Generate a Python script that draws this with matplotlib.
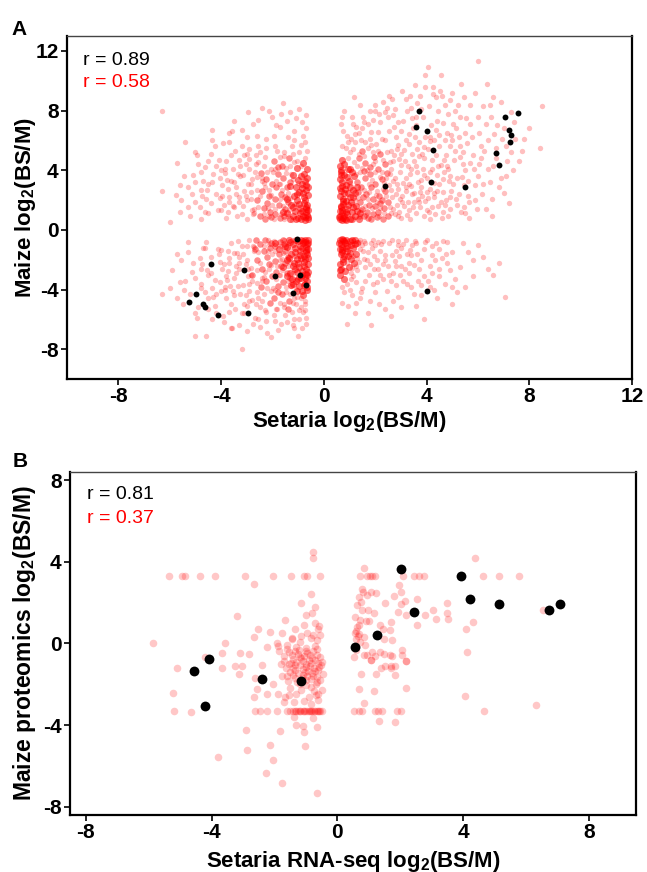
import matplotlib
matplotlib.use("Agg")
import matplotlib.pyplot as plt

plt.rcParams['font.family'] = ['Liberation Sans', 'DejaVu Sans']
plt.rcParams['mathtext.fontset'] = 'custom'
plt.rcParams['mathtext.rm'] = 'Liberation Sans:bold'
plt.rcParams['mathtext.default'] = 'rm'
plt.rcParams['axes.unicode_minus'] = False

# ---------------- Panel A data (Setaria vs Maize log2 BS/M) ----------------
a_q1_dense = [(0.62,0.7),(0.7,1.1),(0.65,1.6),(0.8,0.9),(0.75,2.1),(0.68,2.6),(0.9,1.4),(0.85,3.0),(0.63,3.4),(1.0,0.75),
              (1.05,1.9),(0.72,0.65),(0.95,2.5),(1.1,1.2),(0.66,4.0),(0.78,3.7),(1.2,0.9),(0.88,0.68),(1.15,2.2),(0.7,1.35),
              (0.62,2.3),(0.98,3.3),(1.25,1.6),(0.8,4.4),(0.64,0.95),(1.3,2.9),(0.76,1.75),(1.08,0.7),(0.92,1.05),(0.69,2.95),
              (1.18,3.6),(0.83,2.75),(1.4,1.1),(0.61,1.25),(1.02,4.1),(0.74,0.8),(1.35,0.7),(0.87,1.95),(0.67,3.9),(1.12,2.65),
              (0.6,0.85),(0.68,1.5),(0.73,1.95),(0.61,2.8),(0.78,2.45),(0.86,1.2),(0.94,1.7),(0.72,3.2),(0.9,3.55),(0.67,3.65),
              (1.0,2.2),(1.14,1.5),(0.81,0.72),(1.22,2.45),(1.03,2.85),(0.62,4.3),(0.95,4.05),(0.7,4.7),(1.1,3.9),(1.28,1.25)]
a_q1_core = [(1.5,1.4),(1.7,0.8),(1.9,2.1),(1.45,2.9),(2.1,1.2),(1.6,3.5),(2.3,0.7),(1.8,4.2),(2.4,2.6),(1.55,0.95),
             (2.0,3.1),(1.35,4.8),(2.2,1.8),(1.65,2.4),(2.45,3.8),(1.75,1.65),(1.3,3.2),(2.05,0.85),(1.95,4.9),(2.35,1.45),
             (1.48,5.3),(1.85,2.85),(2.15,2.3),(1.4,1.85),(2.5,0.95),(1.62,4.5),(2.25,3.4),(1.9,1.05),(1.52,2.2),(2.4,4.4),
             (1.78,3.75),(2.0,1.6),(1.33,2.55),(2.28,2.0),(1.68,1.2),(2.12,4.05),(1.58,3.95),(2.48,1.9),(1.82,0.7),(2.2,5.1)]
a_q1_cloud = [(0.7,5.6),(0.9,6.3),(1.2,5.9),(0.65,7.1),(1.5,6.8),(1.1,7.6),(1.8,6.1),(2.2,7.2),(0.8,8.0),(1.4,8.4),
              (2.0,8.0),(2.4,6.0),(1.0,5.2),(1.7,5.5),(0.75,6.6),(2.3,8.6),(1.25,6.9),(1.9,7.4),
              (2.6,1.1),(2.8,2.4),(3.0,0.8),(3.2,3.5),(2.7,4.6),(3.5,1.9),(3.8,2.9),(2.9,5.7),(3.3,6.4),(3.6,4.3),
              (2.55,3.0),(3.9,0.9),(3.1,7.3),(3.7,5.9),(2.75,6.9),(3.4,8.2),(3.85,7.6),(2.65,8.8),(3.05,9.3),(3.55,9.7),
              (3.95,10.4),(3.3,1.35),(2.95,3.9),(3.65,3.2),(3.75,1.5),(2.85,1.7),(3.45,5.1),(2.6,5.3),(3.2,2.6),(3.9,4.8),
              (3.15,4.6),(3.6,7.0),(2.7,7.7),
              (4.1,1.2),(4.3,2.2),(4.6,0.8),(4.9,3.6),(4.2,4.1),(4.5,5.6),(4.8,6.5),(5.2,1.7),(5.4,4.4),(4.4,7.3),
              (4.7,8.4),(5.0,9.2),(4.25,9.6),(4.55,10.4),(5.3,7.6),(5.1,5.3),(4.15,6.2),(4.95,2.6),(5.45,3.0),(4.65,3.4),
              (4.35,8.9),(5.35,9.8),(4.05,10.9),(5.15,6.8),(4.85,0.9),(5.5,1.1),(4.45,1.6),(5.05,4.7),
              (5.6,2.3),(5.8,5.0),(6.0,3.6),(5.7,7.1),(6.2,8.3),(6.0,11.3),(6.4,6.0),(6.6,4.3),(5.9,9.2),(6.3,1.4),
              (6.8,2.9),(6.5,7.6),(7.0,6.8),(7.3,5.2),(7.6,4.6),(6.9,8.6),(7.4,7.2),(5.65,0.8),(6.1,4.8),(6.7,5.5),
              (7.1,3.6),(7.8,6.1),(8.4,5.5),(8.5,8.3),(6.35,9.8),(5.75,6.2),(6.15,2.4),(7.2,1.8),(6.55,0.9),(5.95,1.4)]
a_q1_fill = [(0.95,4.8),(1.15,5.4),(1.42,3.9),(1.63,1.02),(1.87,3.35),(2.08,2.6),(2.32,4.7),(2.56,1.55),(2.77,3.45),(2.98,2.05),
             (3.22,1.02),(3.41,2.95),(3.66,2.1),(3.88,3.7),(4.12,2.75),(4.33,1.05),(4.58,4.35),(4.77,2.0),(5.02,3.1),(5.28,2.4),
             (1.05,6.1),(1.36,6.5),(1.72,7.1),(2.12,6.55),(2.48,7.55),(2.82,6.2),(3.12,5.35),(3.48,6.85),(3.82,5.1),(4.18,7.0),
             (4.48,6.35),(4.82,7.75),(5.22,8.4),(5.48,6.5),(2.02,5.75),(2.62,4.1),(3.02,4.35),(3.32,3.05),(3.72,4.95),(4.06,5.45),
             (4.4,3.7),(4.75,5.0),(5.0,6.0),(5.32,5.6),(1.28,4.3),(1.6,5.9),(1.92,5.2),(2.28,3.9),(2.66,2.2),(2.92,1.2),
             (3.26,1.9),(3.58,1.1),(3.92,1.95),(4.28,3.15),(4.62,2.55),(4.92,1.4),(5.38,3.55),(0.88,5.5),(1.52,7.6),(1.98,8.4),
             (2.38,7.9),(2.78,8.1),(3.18,8.75),(3.62,8.5),(4.08,8.3),(4.52,9.3),(4.9,8.7),(1.18,8.9),(0.72,7.6),(2.55,9.0),
             (1.45,1.3),(1.75,2.55),(2.05,1.9),(2.35,1.1),(2.7,3.3),(3.08,3.15),(3.38,4.05),(3.75,2.55),(4.02,3.45),(4.35,5.0),
             (1.22,2.0),(1.38,0.85),(1.58,2.7),(1.88,1.45),(2.18,3.55),(2.42,2.3),(2.88,2.75),(3.52,2.5),(4.22,1.55),(4.68,3.9),
             (5.6,3.3),(5.85,4.1),(6.05,6.5),(6.25,5.3),(6.45,3.2),(6.75,7.0),(7.15,4.6),(5.7,8.4),(6.6,8.9),(7.45,6.1)]
a_q1_more = [(1.02,3.15),(1.18,4.55),(1.33,2.15),(1.47,4.15),(1.61,1.58),(1.76,3.05),(1.9,4.45),(2.04,2.35),(2.19,1.45),(2.33,3.15),
             (2.47,5.2),(2.62,2.7),(2.76,1.05),(2.91,4.75),(3.05,2.3),(3.19,6.0),(3.34,3.75),(3.48,1.55),(3.63,5.45),(3.77,3.35),
             (3.92,6.25),(4.06,2.15),(4.21,4.7),(4.35,6.7),(4.5,3.05),(4.64,1.2),(4.79,4.3),(4.93,5.65),(1.09,1.72),(1.27,3.75),
             (1.41,0.95),(1.56,4.95),(1.7,2.05),(1.84,5.7),(1.99,3.9),(2.13,0.95),(2.27,6.1),(2.42,3.45),(2.56,4.55),(2.71,1.4),
             (2.85,3.05),(2.99,5.1),(3.13,1.6),(3.28,4.3),(3.42,2.4),(3.57,7.6),(3.71,1.9),(3.86,4.05),(4.0,1.35),(4.14,5.95),
             (4.29,2.45),(4.43,7.95),(4.58,1.9),(4.72,6.0),(4.87,3.25),(5.01,7.1),(5.16,2.1),(5.3,4.9),(5.44,1.55),(5.58,5.8),
             (1.2,6.45),(1.55,7.25),(1.85,6.55),(2.15,7.8),(2.52,6.65),(2.9,7.25),(3.25,7.95),(3.75,8.95),(4.25,9.1),(4.65,7.15),
             (1.37,5.1),(1.67,4.0),(2.0,4.6),(2.31,2.75),(2.58,3.75),(2.87,0.9),(3.18,2.85),(3.5,4.65),(3.82,2.3),(4.12,3.9),
             (0.95,5.9),(1.12,7.1),(1.46,6.05),(1.8,8.0),(2.1,5.3),(2.45,8.2),(2.83,5.45),(3.35,9.0),(3.95,9.6),(5.45,8.9)]
a_q1_outer = [(3.05,1.85),(3.35,0.75),(3.62,3.85),(3.9,5.55),(4.15,0.75),(4.4,2.6),(4.68,4.7),(4.95,6.35),(5.18,3.5),(5.42,5.25),
              (5.65,1.85),(5.9,3.0),(6.12,5.6),(6.38,4.1),(6.62,6.4),(6.88,3.5),(7.1,5.6),(7.35,4.0),(5.55,7.5),(6.0,7.6),
              (6.45,8.4),(4.6,9.0),(5.1,8.0),(3.45,7.5),(3.8,8.1),(4.3,6.0),(4.85,4.1),(5.25,6.2),(5.7,4.5),(6.2,3.1),
              (6.55,2.1),(6.95,6.1),(7.3,7.9),(7.7,5.3),(8.0,6.8),(5.9,2.0),(5.35,1.2),(4.72,1.65),(4.0,2.55),(3.3,5.75),
              (2.75,5.05),(3.0,6.6),(3.55,6.2),(4.45,4.25),(4.9,2.2),(5.5,4.0),(6.05,4.4),(6.3,7.1),(6.7,4.8),(7.0,2.5)]
a_q2_dense = [(-0.62,0.72),(-0.7,1.2),(-0.66,1.7),(-0.82,0.9),(-0.76,2.2),(-0.68,2.7),(-0.92,1.45),(-0.86,3.1),(-0.64,3.5),
              (-1.02,0.78),(-1.06,2.0),(-0.73,0.66),(-0.96,2.55),(-1.12,1.25),(-0.67,4.1),(-0.79,3.75),(-1.22,0.95),(-0.89,0.7),
              (-1.16,2.3),(-0.71,1.4),(-0.63,2.35),(-0.99,3.35),(-1.27,1.65),(-0.81,4.5),(-0.65,1.0),(-1.31,2.95),(-0.77,1.8),
              (-1.09,0.72),(-0.93,1.1),(-0.7,3.0),(-1.19,3.65),(-0.84,2.8),(-1.42,1.15),(-0.61,1.3),(-1.04,4.15),(-0.75,0.84),
              (-0.6,0.85),(-0.68,1.55),(-0.74,2.0),(-0.62,2.85),(-0.8,2.45),(-0.87,1.25),(-0.95,1.75),(-0.73,3.3),(-0.9,3.6),
              (-1.05,2.4),(-1.2,1.55),(-1.3,0.75),(-1.45,2.05),(-1.1,2.9),(-1.6,1.2)]
a_q2_core = [(-1.5,1.4),(-1.7,0.8),(-1.9,2.1),(-1.45,2.9),(-2.1,1.2),(-1.6,3.5),(-2.3,0.7),(-1.8,4.2),(-2.4,2.6),(-1.55,0.95),
             (-2.0,3.1),(-1.35,4.8),(-2.2,1.8),(-1.65,2.4),(-2.45,3.8),(-1.75,1.65),(-1.3,3.2),(-2.05,0.85),(-1.95,4.6),(-2.35,1.45),
             (-1.85,2.85),(-2.15,2.3),(-1.4,1.85),(-2.5,0.95),(-1.62,4.3),(-2.25,3.4),(-1.9,1.05),(-1.52,2.2),(-2.6,2.0),(-1.78,3.75)]
a_q2_cloud = [(-2.8,1.3),(-3.1,2.6),(-3.4,0.9),(-2.7,3.9),(-3.6,3.3),(-3.9,1.7),(-4.2,2.4),(-4.5,1.1),(-3.3,4.7),(-2.9,5.4),
              (-4.0,4.0),(-4.7,3.3),(-5.0,1.9),(-5.3,2.9),(-4.4,5.1),(-3.7,5.9),(-2.6,6.3),(-3.2,6.7),(-4.35,6.7),(-2.4,8.2),
              (-1.58,8.5),(-2.0,7.6),(-1.1,7.5),(-0.7,6.8),(-1.4,6.2),(-0.9,5.7),(-1.9,5.6),(-2.3,4.9),(-1.2,5.1),(-0.65,5.3),
              (-5.4,5.9),(-6.3,8.0),(-6.3,2.6),(-5.76,2.35),(-5.6,1.2),(-4.9,4.4),(-3.0,0.75),(-3.8,0.8),(-4.8,0.7),(-2.85,2.1),
              (-3.55,1.6),(-2.65,4.4),(-3.95,3.0),(-4.6,2.1),(-3.25,3.6),(-2.55,5.6),(-1.7,6.9),(-1.3,7.9),(-0.8,6.3),(-5.1,3.7),
              (-3.5,7.3),(-2.95,7.9),(-4.1,4.7),(-5.2,0.9),(-6.0,0.5),
              (-3.3,2.2),(-3.75,2.75),(-4.3,3.75),(-4.75,2.3),(-5.0,3.2),(-3.5,3.2),(-2.9,4.1),(-3.1,5.0),(-4.5,4.6),(-5.6,3.0)]
a_q2_fill = [(-1.05,4.6),(-1.25,5.6),(-1.48,3.8),(-1.66,1.05),(-1.88,3.3),(-2.12,2.65),(-2.32,4.3),(-2.55,1.5),(-2.78,3.4),(-2.98,2.0),
             (-3.2,1.05),(-3.42,2.9),(-3.68,2.2),(-3.86,3.8),(-4.12,1.3),(-4.35,3.2),(-4.62,4.2),(-4.82,1.5),(-1.15,6.0),(-1.55,5.2),
             (-1.95,6.3),(-2.25,5.5),(-2.65,5.0),(-3.05,4.4),(-3.45,5.3),(-3.8,4.6),(-4.25,5.6),(-1.35,1.3),(-1.62,2.7),(-1.92,1.4),
             (-2.22,3.9),(-2.48,2.25),(-2.72,1.15),(-2.95,3.1),(-3.3,1.85),(-3.55,4.1),(-3.95,2.3),(-4.4,1.8),(-0.95,5.2),(-0.72,4.8),
             (-1.3,4.3),(-1.72,4.9),(-2.05,4.1),(-2.42,3.25),(-2.85,2.55),(-3.15,3.7),(-3.75,1.2),(-4.05,3.5),(-4.55,2.7),(-5.15,2.4),
             (-5.45,3.6),(-5.7,4.5),(-5.0,5.2),(-0.85,7.2),(-1.85,7.0),(-2.75,7.1),(-3.7,6.5),(-1.45,7.3),(-2.15,8.0),(-0.95,8.1),
             (-1.15,1.75),(-1.4,2.45),(-1.7,3.05),(-2.0,1.65),(-2.3,2.85),(-2.6,3.55),(-1.25,0.68),(-1.55,0.7),(-1.95,0.75),(-2.35,1.05)]
a_q2_more = [(-1.02,3.15),(-1.18,4.55),(-1.33,2.15),(-1.47,4.15),(-1.61,1.58),(-1.76,3.05),(-1.9,4.05),(-2.04,2.35),(-2.19,1.45),(-2.33,3.15),
             (-2.47,5.2),(-2.62,2.7),(-2.76,1.05),(-2.91,4.75),(-3.05,2.3),(-3.19,5.6),(-3.34,3.75),(-3.48,1.55),(-3.63,5.0),(-3.77,3.35),
             (-3.92,5.8),(-4.06,2.15),(-4.21,4.3),(-4.35,6.0),(-4.5,3.05),(-4.64,1.2),(-4.79,3.9),(-4.93,5.0),(-1.09,1.72),(-1.27,3.75),
             (-1.41,0.95),(-1.56,4.95),(-1.7,2.05),(-1.84,5.3),(-1.99,3.9),(-2.13,0.95),(-2.27,6.1),(-2.42,3.45),(-2.56,4.55),(-2.71,1.4),
             (-2.85,3.05),(-2.99,5.1),(-3.13,1.6),(-3.28,4.3),(-3.42,2.4),(-3.57,6.6),(-3.71,1.9),(-3.86,4.05),(-4.0,1.35),(-5.3,1.5),
             (-5.55,2.0),(-4.8,2.65),(-1.15,6.6),(-0.75,5.9),(-0.68,7.7),(-1.65,7.8),(-2.55,7.4),(-3.0,6.2),(-0.9,4.3),(-1.2,3.4)]
a_q3_dense = [(-0.62,-0.7),(-0.7,-1.15),(-0.66,-1.65),(-0.82,-0.9),(-0.76,-2.15),(-0.68,-2.65),(-0.92,-1.4),(-0.86,-3.05),
              (-0.64,-3.45),(-1.02,-0.75),(-1.06,-1.95),(-0.73,-0.66),(-0.96,-2.5),(-1.12,-1.2),(-0.67,-4.0),(-0.79,-3.7),
              (-1.22,-0.92),(-0.89,-0.68),(-1.16,-2.25),(-0.71,-1.38),(-0.63,-2.3),(-0.99,-3.3),(-1.27,-1.6),(-0.81,-4.4),
              (-0.65,-0.98),(-1.31,-2.9),(-0.77,-1.78),(-1.09,-0.7),(-0.93,-1.08),(-0.7,-2.95),(-1.19,-3.6),(-0.84,-2.75),
              (-1.42,-1.12),(-0.61,-1.28),(-1.04,-4.1),(-0.75,-0.82),(-1.36,-0.66),(-0.88,-1.92),(-0.66,-3.85),(-1.13,-2.6),
              (-0.6,-1.9),(-0.95,-3.75),(-1.25,-3.3),(-1.45,-2.0),(-0.72,-3.25),
              (-0.6,-0.85),(-0.68,-1.5),(-0.73,-1.95),(-0.61,-2.8),(-0.78,-2.45),(-0.86,-1.2),(-0.94,-1.7),(-0.72,-3.6),
              (-0.9,-3.2),(-0.67,-3.05),(-1.0,-2.2),(-1.14,-1.5),(-0.81,-0.72),(-1.22,-2.45),(-1.03,-2.85),(-1.35,-1.9),
              (-1.5,-1.1),(-1.28,-3.7),(-1.1,-3.4),(-0.85,-4.1),(-1.6,-2.5),(-1.75,-1.3),(-1.45,-3.1),(-1.9,-0.9),(-1.3,-0.8)]
a_q3_core = [(-1.5,-1.4),(-1.7,-0.8),(-1.9,-2.1),(-1.45,-2.9),(-2.1,-1.2),(-1.6,-3.5),(-2.3,-0.7),(-1.8,-4.2),(-2.4,-2.6),
             (-1.55,-0.95),(-2.0,-3.1),(-1.35,-4.8),(-2.2,-1.8),(-1.65,-2.4),(-2.45,-3.8),(-1.75,-1.65),(-1.3,-3.2),(-2.05,-0.85),
             (-1.95,-4.6),(-2.35,-1.45),(-1.85,-2.85),(-2.15,-2.3),(-1.4,-1.85),(-2.5,-0.95),(-1.62,-4.3),(-2.25,-3.4),(-1.9,-1.05),
             (-1.52,-2.2),(-2.6,-2.0),(-1.78,-3.75),(-2.7,-1.3),(-2.8,-3.0),(-1.4,-5.3),(-2.1,-4.9),(-2.65,-0.65),(-1.6,-0.65)]
a_q3_cloud = [(-3.0,-1.1),(-3.3,-2.2),(-3.6,-0.9),(-2.9,-3.6),(-3.8,-3.1),(-4.1,-1.6),(-4.4,-2.9),(-4.7,-1.2),(-3.5,-4.4),
              (-3.1,-5.0),(-4.0,-4.1),(-4.8,-3.6),(-5.1,-2.2),(-5.4,-3.4),(-4.5,-4.6),(-3.7,-5.5),(-2.7,-5.9),(-3.3,-6.4),
              (-2.5,-6.5),(-3.2,-8.0),(-5.0,-7.1),(-4.6,-7.1),(-1.9,-6.1),(-1.2,-6.4),(-0.7,-5.9),(-1.5,-5.7),(-0.9,-5.2),
              (-2.3,-5.4),(-1.0,-7.1),(-6.3,-4.3),(-6.0,-3.9),(-5.7,-1.6),(-5.9,-2.7),(-5.5,-5.0),(-4.2,-5.6),(-2.8,-4.7),
              (-3.9,-2.3),(-4.6,-0.8),(-5.3,-0.8),(-3.4,-1.55),(-2.95,-2.65),(-3.65,-3.75),(-4.25,-3.35),(-2.6,-4.2),
              (-1.8,-6.7),(-2.2,-6.9),(-5.2,-4.3),(-4.9,-5.2),(-3.9,-6.2),(-0.75,-4.8),(-1.1,-5.0),
              (-3.3,-2.6),(-3.75,-2.75),(-4.3,-4.5),(-4.75,-2.3),(-5.0,-3.2),(-3.5,-3.2),(-2.9,-4.1),(-3.1,-5.6),(-4.5,-5.3),(-5.6,-3.5)]
a_q3_fill = [(-1.05,-4.5),(-1.25,-5.5),(-1.48,-3.8),(-1.66,-1.05),(-1.88,-3.3),(-2.12,-2.65),(-2.32,-4.3),(-2.55,-1.5),(-2.78,-3.4),(-2.98,-2.0),
             (-3.2,-1.05),(-3.42,-2.9),(-3.68,-2.2),(-3.86,-3.8),(-4.12,-1.3),(-4.35,-3.9),(-4.62,-4.2),(-4.82,-1.9),(-1.15,-6.0),(-1.55,-5.2),
             (-1.95,-5.7),(-2.25,-5.5),(-2.65,-5.0),(-3.05,-4.4),(-3.45,-5.3),(-3.8,-4.6),(-4.25,-5.1),(-1.35,-1.3),(-1.62,-2.7),(-1.92,-1.4),
             (-2.22,-3.9),(-2.48,-2.25),(-2.72,-1.15),(-2.95,-3.1),(-3.3,-1.85),(-3.55,-4.1),(-3.95,-2.6),(-4.4,-1.8),(-0.95,-5.4),(-0.72,-5.0),
             (-1.3,-4.3),(-1.72,-4.9),(-2.05,-4.1),(-2.42,-3.25),(-2.85,-2.55),(-3.15,-3.7),(-3.75,-1.4),(-4.05,-3.5),(-4.55,-2.7),(-5.15,-2.8),
             (-5.45,-4.0),(-5.7,-4.6),(-5.0,-5.6),(-0.85,-6.6),(-1.85,-5.3),(-2.75,-6.3),(-3.6,-6.6),(-1.45,-6.2),(-2.05,-7.2),(-0.95,-6.0),
             (-1.15,-1.75),(-1.4,-2.45),(-1.7,-3.05),(-2.0,-1.65),(-2.3,-2.85),(-2.6,-3.55),(-1.25,-0.68),(-1.55,-0.7),(-1.95,-0.75),(-2.35,-1.05),
             (-1.1,-3.95),(-1.38,-3.45),(-1.62,-1.95),(-1.82,-2.45),(-2.18,-0.7),(-2.42,-4.8),(-2.9,-0.7),(-3.35,-0.75),(-0.8,-5.5),(-1.22,-4.9)]
a_q3_more = [(-1.02,-3.15),(-1.18,-4.55),(-1.33,-2.15),(-1.47,-4.15),(-1.61,-1.58),(-1.76,-3.05),(-1.9,-4.05),(-2.04,-2.35),(-2.19,-1.45),(-2.33,-3.15),
             (-2.47,-5.2),(-2.62,-2.7),(-2.76,-1.05),(-2.91,-4.75),(-3.05,-2.3),(-3.19,-5.6),(-3.34,-3.75),(-3.48,-1.55),(-3.63,-5.0),(-3.77,-3.35),
             (-3.92,-5.8),(-4.06,-2.15),(-4.21,-4.3),(-4.35,-6.0),(-4.5,-3.05),(-4.64,-1.2),(-4.79,-3.9),(-4.93,-5.9),(-1.09,-1.72),(-1.27,-3.75),
             (-1.41,-0.95),(-1.56,-4.95),(-1.7,-2.05),(-1.84,-5.3),(-1.99,-3.9),(-2.13,-0.95),(-2.27,-6.1),(-2.42,-3.45),(-2.56,-4.55),(-2.71,-1.4),
             (-2.85,-3.05),(-2.99,-5.1),(-3.13,-1.6),(-3.28,-4.3),(-3.42,-2.4),(-3.57,-6.6),(-3.71,-1.9),(-3.86,-4.05),(-4.0,-1.35),(-5.3,-1.5),
             (-5.55,-2.0),(-4.8,-2.65),(-1.15,-6.6),(-0.75,-5.4),(-0.68,-6.3),(-1.65,-6.3),(-2.55,-6.0),(-3.0,-6.8),(-0.9,-4.6),(-1.2,-2.9)]
a_q4_dense = [(0.62,-0.7),(0.7,-1.15),(0.66,-1.65),(0.82,-0.9),(0.76,-2.15),(0.68,-2.65),(0.92,-1.4),(0.86,-0.65),(0.64,-3.0),
              (1.02,-0.75),(1.06,-1.95),(0.73,-0.66),(0.96,-2.5),(1.12,-1.2),(0.79,-3.3),(1.22,-0.92),(0.89,-1.1),(1.16,-2.25),
              (0.71,-1.38),(0.63,-2.3),(1.27,-1.6),(0.65,-0.98),(0.77,-1.78),(1.09,-0.7),(1.3,-0.85),(0.84,-2.75),(0.61,-1.28),
              (1.0,-1.55),(0.6,-0.85),(0.69,-1.5),(0.75,-1.95),(0.62,-2.7),(0.8,-0.75),(0.88,-1.25),(0.95,-1.75),(1.05,-1.0),
              (1.2,-0.68),(0.7,-0.62)]
a_q4_cloud = [(1.5,-1.0),(1.8,-2.3),(2.1,-0.8),(2.4,-1.7),(1.6,-3.4),(2.7,-2.9),(3.0,-1.2),(3.3,-2.2),(2.0,-4.2),(1.4,-4.6),
              (3.6,-0.9),(3.9,-3.1),(4.2,-1.7),(4.5,-2.6),(2.9,-4.5),(3.4,-3.8),(4.8,-0.8),(5.1,-3.3),(5.6,-1.5),(6.0,-1.0),
              (6.4,-2.6),(7.05,-4.5),(5.0,-5.0),(3.6,-5.1),(2.4,-5.3),(1.2,-5.6),(0.9,-6.3),(1.85,-6.4),(2.6,-5.8),(3.9,-6.0),
              (4.4,-4.6),(1.7,-1.5),(2.2,-3.0),(1.3,-2.7),(2.8,-1.4),(3.2,-0.7),(4.0,-0.7),(1.9,-0.65),(2.5,-2.4),(1.0,-4.0),
              (0.7,-4.9),(3.7,-2.6),(4.7,-3.6),(5.8,-2.0),(2.3,-0.75),(1.55,-1.95),(1.35,-0.8),(3.1,-3.4),(6.6,-3.0),
              (1.3,-1.9),(1.6,-0.9),(1.9,-3.6),(2.3,-2.3),(2.6,-3.4),(3.0,-2.4),(3.4,-1.7),(3.8,-3.7),(4.2,-2.9),(4.6,-1.9),
              (5.0,-3.8),(5.4,-0.9),(1.05,-3.3),(1.25,-4.9),(2.0,-1.0),(2.9,-1.0),(3.55,-0.75),(4.3,-4.0),(0.85,-1.9),(1.1,-2.55)]
a_q4_fill = [(1.05,-2.9),(1.25,-3.5),(1.42,-1.3),(1.62,-2.5),(1.88,-1.2),(2.08,-2.0),(2.32,-3.3),(2.55,-0.9),(2.78,-2.1),(2.98,-3.0),
             (3.22,-1.6),(3.45,-1.0),(3.68,-3.4),(3.88,-1.3),(4.12,-2.4),(4.35,-0.9),(1.15,-0.65),(1.35,-2.15),(1.55,-0.75),(1.75,-3.0),
             (1.95,-2.6),(2.2,-1.4),(2.45,-4.1),(2.65,-1.7),(2.9,-0.75),(3.15,-2.6),(3.5,-4.3),(3.8,-2.0),(4.15,-3.8),(4.5,-1.3),
             (0.9,-3.6),(1.1,-4.4),(1.5,-3.9),(1.8,-4.8),(2.15,-5.0),(2.8,-3.7),(3.3,-2.9),(0.7,-3.8),(0.95,-5.1),(5.3,-2.5),
             (5.0,-1.5),(5.5,-3.8),(6.2,-1.8),(4.8,-2.2),(0.8,-0.75)]
a_q4_more = [(0.98,-0.9),(1.12,-1.75),(1.26,-2.4),(1.4,-0.7),(1.54,-1.45),(1.68,-2.05),(1.82,-0.85),(1.96,-1.75),(2.1,-2.65),(2.24,-0.95),
             (2.38,-2.05),(2.52,-3.05),(2.66,-0.7),(2.8,-2.45),(2.94,-1.75),(3.08,-0.95),(3.22,-3.6),(3.36,-1.35),(3.5,-2.35),(3.64,-1.65),
             (3.78,-4.4),(3.92,-0.8),(4.06,-3.4),(4.2,-1.1),(4.34,-2.0),(4.48,-3.1),(4.62,-0.75),(4.76,-1.6),(4.9,-2.7),(5.2,-4.2),
             (0.78,-4.2),(0.9,-2.2),(1.15,-3.1),(1.45,-4.2),(1.7,-5.6),(2.05,-3.5),(2.7,-4.8),(3.0,-5.2),(5.8,-3.1),(6.8,-2.2)]
a_black = [(3.69,8.0),(3.59,6.9),(4.03,6.6),(4.25,5.35),(4.19,3.2),(2.40,2.93),(5.50,2.85),(7.05,7.6),(7.57,7.87),
           (7.2,6.67),(7.29,6.38),(7.23,5.87),(6.71,5.15),(6.83,4.38),(4.02,-4.13),
           (-1.05,-0.62),(-4.41,-2.31),(-3.09,-2.69),(-1.91,-3.11),(-0.93,-3.02),(-0.70,-3.73),(-1.20,-4.22),
           (-4.97,-4.29),(-5.25,-4.87),(-4.71,-4.98),(-4.62,-5.2),(-4.12,-5.71),(-2.94,-5.6)]
a_r_all = "r = 0.89"
a_r_red = "r = 0.58"
a_xticks = [-8, -4, 0, 4, 8, 12]
a_yticks = [-8, -4, 0, 4, 8, 12]

# ---------------- Panel B data (Setaria RNA-seq vs Maize proteomics) ----------------
b_red_top = [(-5.34,3.3),(-4.93,3.3),(-4.85,3.3),(-4.36,3.3),(-3.89,3.3),(-2.92,3.3),(-2.03,3.3),(-1.47,3.3),(-1.07,3.3),
             (-0.96,3.3),(-0.54,3.3),(0.73,3.3),(0.95,3.3),(1.05,3.3),(1.1,3.3),(1.21,3.3),(2.09,3.3),(2.43,3.3),(2.59,3.3),
             (2.75,3.3),(4.64,3.3),(5.14,3.3),(5.77,3.3)]
b_red_bottom = [(-5.18,-3.3),(-4.65,-3.38),(-2.61,-3.3),(-2.45,-3.3),(-2.24,-3.3),(-1.92,-3.3),(-1.60,-3.3),(-1.49,-3.3),
                (-1.4,-3.3),(-1.32,-3.3),(-1.25,-3.3),(-1.18,-3.3),(-1.1,-3.3),(-1.02,-3.3),(-0.95,-3.3),(-0.88,-3.3),
                (-0.8,-3.3),(-0.72,-3.3),(-0.65,-3.3),(-0.58,-3.3),(-0.5,-3.3),(-1.2,-3.3),(-0.9,-3.3),(-0.6,-3.3),
                (-1.05,-3.3),(-0.75,-3.3),(-1.35,-3.3),(-0.85,-3.3),(-0.55,-3.3),(0.52,-3.32),(0.68,-3.32),(0.79,-3.32),
                (1.19,-3.32),(1.28,-3.32),(1.42,-3.32),(1.90,-3.32),(2.04,-3.32),(4.66,-3.32)]
b_red_left = [(-0.77,4.49),(-0.77,4.21),(-2.66,2.9),(-0.85,2.41),(-1.16,1.99),(-0.70,1.79),(-0.79,1.47),(-1.0,1.39),
              (-3.19,1.34),(-1.65,1.14),(-0.70,1.01),(-1.07,0.90),(-0.59,0.85),(-2.52,0.72),(-1.34,0.72),(-2.13,0.57),
              (-1.76,0.52),(-0.96,0.52),(-0.77,0.44),(-2.66,0.32),(-1.44,0.29),(-5.87,0.0),(-3.57,0.0),(-1.92,0.0),
              (-1.20,0.08),(-0.65,0.16),(-2.24,-0.16),(-1.60,-0.25),(-0.65,-0.25),(-3.67,-0.49),(-3.09,-0.49),(-2.82,-0.52),
              (-4.20,-0.65),(-2.40,-1.06),(-3.25,-1.11),(-3.67,-1.22),(-5.1,-1.22),(-3.04,-1.11),(-3.11,-1.50),(-2.61,-1.67),
              (-2.03,-1.99),(-2.56,-2.25),(-2.24,-2.45),(-1.87,-2.45),(-5.21,-2.42),(-2.66,-2.61),(-1.71,-2.86),(-1.55,-2.53),
              (-0.60,-2.45),(-1.39,-3.59),(-1.31,-4.0),(-1.09,-4.05),(-1.07,-4.33),(-0.65,-4.08),(-0.77,-3.67),(-2.91,-4.25),
              (-1.82,-4.29),(-2.13,-4.95),(-1.02,-5.03),(-2.86,-5.22),(-3.80,-5.55),(-2.03,-5.71),(-2.26,-6.34),(-1.76,-6.81),
              (-0.63,-7.32)]
b_red_cluster = [(-1.85,-0.35),(-1.7,-0.6),(-1.55,-0.4),(-1.4,-0.75),(-1.25,-0.5),(-1.1,-0.85),(-0.95,-0.45),(-0.8,-0.7),
                 (-0.65,-0.55),(-0.5,-0.9),(-1.8,-1.0),(-1.62,-1.2),(-1.48,-0.95),(-1.33,-1.3),(-1.18,-1.05),(-1.02,-1.4),
                 (-0.88,-1.1),(-0.72,-1.35),(-0.58,-1.15),(-0.47,-1.5),(-1.75,-1.6),(-1.58,-1.85),(-1.42,-1.55),(-1.28,-1.9),
                 (-1.12,-1.7),(-0.98,-2.05),(-0.83,-1.75),(-0.68,-2.0),(-0.55,-1.8),(-0.5,-2.3),(-1.5,-2.2),(-1.3,-2.45),
                 (-1.15,-2.3),(-0.9,-2.6),(-0.75,-2.35),(-1.65,-2.6),(-1.05,-2.8),(-0.6,-2.75),(-1.38,-2.85),(-0.85,-2.95),
                 (-1.9,-0.1),(-1.6,-0.05),(-1.3,-0.15),(-1.0,-0.2),(-0.7,-0.1),(-1.45,0.2),(-1.15,0.35),(-0.85,0.25),
                 (-0.55,0.4),(-0.6,0.7),(-1.2,-0.65),(-1.0,-1.0),(-0.9,-0.8),(-0.75,-1.2),(-0.62,-0.95),(-1.35,-1.05),
                 (-1.1,-1.25),(-0.95,-1.6),(-0.8,-1.45),(-0.65,-1.65),(-1.22,-0.3),(-0.78,-0.35),(-1.5,-1.4),(-1.05,-0.6),
                 (-0.55,-0.65),(-1.45,-0.55),(-1.3,-0.9),(-1.15,-0.7),(-0.98,-1.15),(-0.85,-0.95),(-0.7,-0.8),(-0.6,-1.3),
                 (-1.4,-1.2),(-1.25,-1.45),(-1.08,-1.55),(-0.92,-1.35),(-0.78,-1.6),(-0.63,-1.9),(-1.35,-1.7),(-1.2,-2.0),
                 (-1.0,-1.8),(-0.82,-2.15),(-0.68,-2.5),(-1.55,-1.0),(-1.7,-0.85),(-1.6,-1.6),(-1.0,-0.35),(-0.88,-0.55),
                 (-1.35,-0.35),(-0.52,-1.05)]
b_red_right = [(0.84,3.7),(4.37,4.19),(1.95,2.86),(0.79,2.69),(0.82,2.5),(1.06,2.5),(1.24,2.45),(2.03,2.53),(1.79,2.32),
               (0.95,2.37),(2.54,2.20),(0.75,2.02),(1.51,1.96),(2.15,2.1),(2.04,1.95),(3.49,1.96),(0.78,1.66),(0.99,1.66),
               (1.93,1.55),(3.04,1.66),(3.49,1.50),(1.16,1.47),(2.20,1.39),(2.80,1.39),(3.15,1.19),(3.51,1.19),(0.73,1.17),
               (0.9,1.1),(1.0,1.1),(1.72,1.06),(4.32,1.06),(2.52,0.90),(0.63,0.81),(1.37,0.90),(4.08,0.69),(1.44,0.7),
               (1.67,0.65),(0.66,0.35),(0.84,0.3),(1.47,0.24),(1.74,0.16),(0.89,-0.08),(1.11,-0.4),(1.37,-0.4),(2.06,-0.33),
               (4.13,-0.41),(0.52,-0.65),(0.84,-0.56),(1.08,-0.82),(1.68,-0.57),(2.20,-0.87),(1.4,-1.2),(1.7,-1.2),(6.55,1.63),
               (0.55,0.5),(0.6,0.62),(0.7,0.45),(0.58,0.2),(0.68,0.9),(0.55,1.3),(0.62,1.9),(0.7,2.3),(0.6,-0.3),(0.72,0.05),
               (0.95,-0.55),(1.21,-0.6),(1.47,-0.5),(1.74,-0.62),(2.06,-0.55),(1.07,-0.82),(1.51,-1.11),(1.71,-1.11),
               (1.82,-1.11),(2.19,-0.87),(0.75,-1.50),(1.24,-1.47),(1.82,-1.55),(0.68,-2.25),(1.18,-2.34),(2.17,-2.20),
               (0.84,-2.91),(4.05,-2.56),(6.33,-3.02),(1.32,-3.80),(1.82,-3.84)]
b_black = [(2.04,3.67),(3.92,3.30),(4.21,2.17),(5.13,1.92),(7.07,1.94),(6.74,1.65),(2.43,1.55),(1.26,0.44),(0.56,-0.17),
           (-4.07,-0.75),(-4.57,-1.34),(-4.22,-3.05),(-2.40,-1.75),(-1.16,-1.83)]
b_r_all = "r = 0.81"
b_r_red = "r = 0.37"
b_xticks = [-8, -4, 0, 4, 8]
b_yticks = [-8, -4, 0, 4, 8]


def xy(pts):
    return [p[0] for p in pts], [p[1] for p in pts]


fig = plt.figure(figsize=(6.47, 8.72), dpi=100)
axA = fig.add_axes([0.1036, 0.5654, 0.8733, 0.3933])
axB = fig.add_axes([0.1082, 0.0654, 0.8748, 0.3933])

RED = '#ff0000'

# Panel A
for pts in (a_q1_cloud, a_q2_cloud, a_q3_cloud, a_q4_cloud, a_q1_fill, a_q2_fill, a_q3_fill, a_q4_fill,
            a_q1_more, a_q2_more, a_q3_more, a_q4_more, a_q1_outer):
    x, y = xy(pts)
    axA.scatter(x, y, s=15, color=RED, alpha=0.25, linewidths=0)
for pts in (a_q1_core, a_q2_core, a_q3_core):
    x, y = xy(pts)
    axA.scatter(x, y, s=22, color=RED, alpha=0.45, linewidths=0)
for pts in (a_q1_dense, a_q2_dense, a_q3_dense, a_q4_dense):
    x, y = xy(pts)
    axA.scatter(x, y, s=26, color=RED, alpha=0.55, linewidths=0)
x, y = xy(a_black)
axA.scatter(x, y, s=18, color='black', linewidths=0, zorder=5)
axA.set_xlim(-10, 12)
axA.set_ylim(-10, 13)
axA.set_xticks(a_xticks)
axA.set_yticks(a_yticks)
axA.set_xlabel('Setaria log$_2$(BS/M)', fontsize=16, fontweight='bold')
axA.set_ylabel('Maize log$_2$(BS/M)', fontsize=16, fontweight='bold')
axA.xaxis.set_label_coords(0.5, -0.088)
axA.yaxis.set_label_coords(-0.052, 0.5)
axA.text(0.028, 0.915, a_r_all, transform=axA.transAxes, fontsize=14, color='black', va='baseline')
axA.text(0.028, 0.851, a_r_red, transform=axA.transAxes, fontsize=14, color=RED, va='baseline')

# Panel B
for pts in (b_red_top, b_red_bottom, b_red_left, b_red_cluster, b_red_right):
    x, y = xy(pts)
    axB.scatter(x, y, s=30, color=RED, alpha=0.22, linewidths=0)
x, y = xy(b_black)
axB.scatter(x, y, s=50, color='black', linewidths=0, zorder=5)
axB.set_xlim(-8.5, 9.5)
axB.set_ylim(-8.4, 8.4)
axB.set_xticks(b_xticks)
axB.set_yticks(b_yticks)
axB.set_xlabel('Setaria RNA-seq log$_2$(BS/M)', fontsize=16, fontweight='bold')
axB.set_ylabel('Maize proteomics log$_2$(BS/M)', fontsize=16.5, fontweight='bold')
axB.xaxis.set_label_coords(0.5, -0.098)
axB.yaxis.set_label_coords(-0.056, 0.5)
axB.text(0.030, 0.921, b_r_all, transform=axB.transAxes, fontsize=14, color='black', va='baseline')
axB.text(0.030, 0.851, b_r_red, transform=axB.transAxes, fontsize=14, color=RED, va='baseline')

for ax in (axA, axB):
    for side in ('left', 'bottom', 'right'):
        ax.spines[side].set_linewidth(1.6)
        ax.spines[side].set_color('black')
    ax.spines['top'].set_linewidth(1.0)
    ax.spines['top'].set_color('#444444')
    ax.tick_params(direction='out', length=4, width=1.2, pad=2, labelsize=15, colors='black')
    for lbl in ax.get_xticklabels() + ax.get_yticklabels():
        lbl.set_fontweight('bold')

fig.text(0.0185, 0.960, 'A', fontsize=15, fontweight='bold', va='baseline')
fig.text(0.0200, 0.4644, 'B', fontsize=15, fontweight='bold', va='baseline')

fig.savefig('out.png', dpi=100)
